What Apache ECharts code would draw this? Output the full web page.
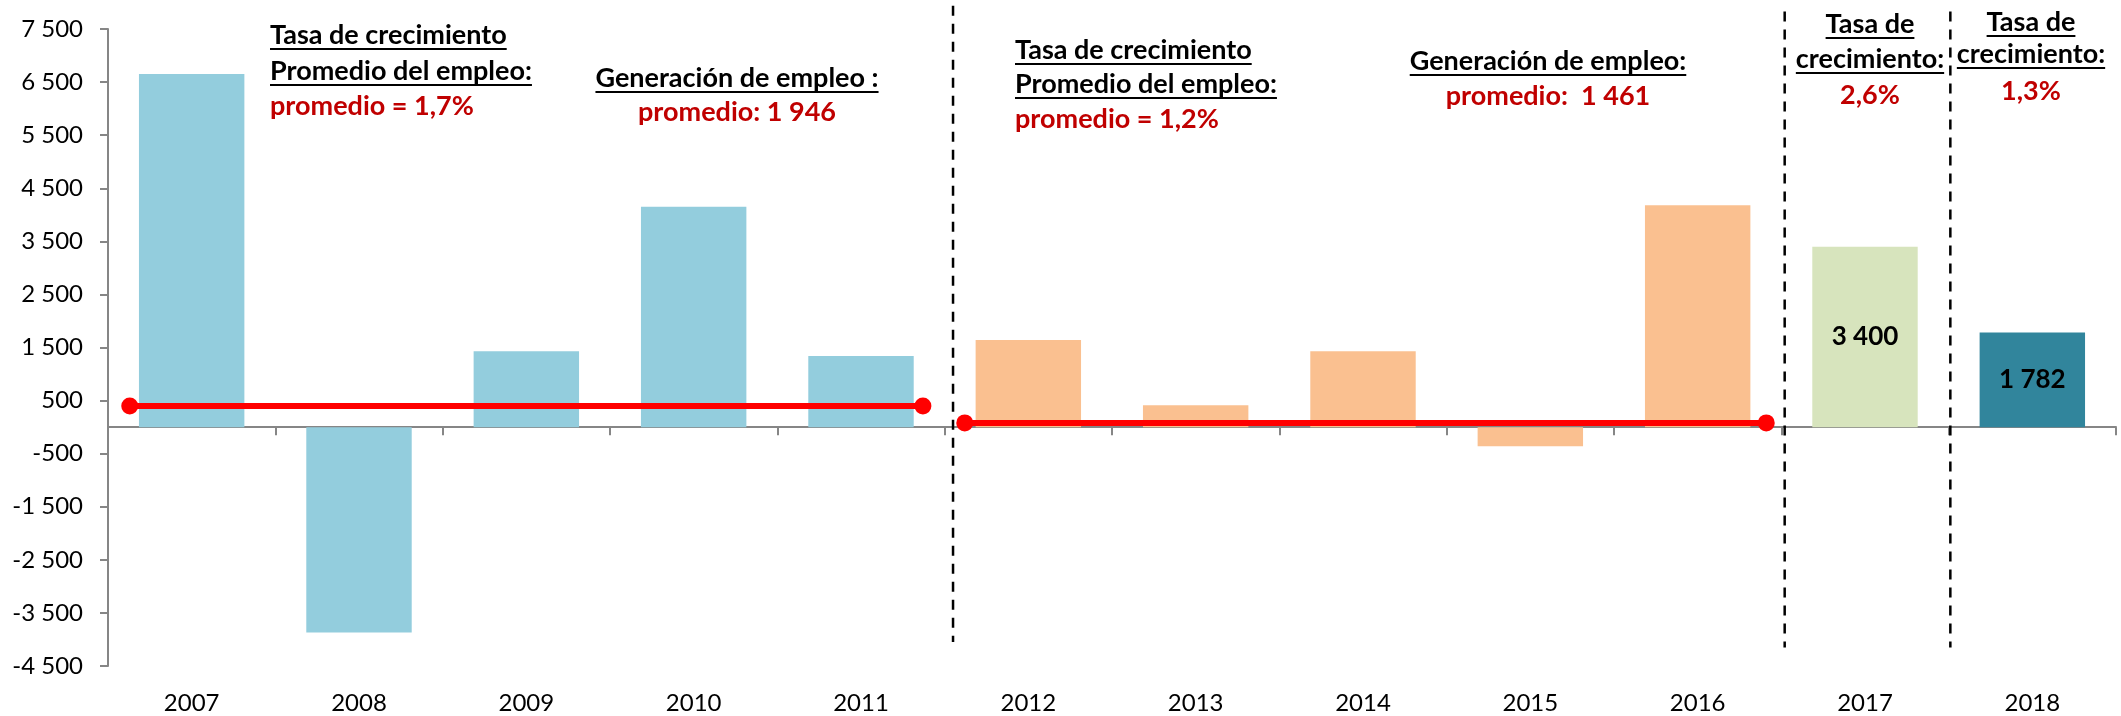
<!DOCTYPE html>
<html>
<head>
<meta charset="utf-8">
<script src="https://cdn.jsdelivr.net/npm/echarts@6/dist/echarts.min.js"></script>
<style>
  html, body { margin: 0; padding: 0; background: #fff; }
  #main { width: 2121px; height: 716px; }
</style>
</head>
<body>
<div id="main"></div>
<script>
// datos
var anios = ['2007', '2008', '2009', '2010', '2011', '2012', '2013', '2014', '2015', '2016', '2017', '2018'];
var empleo = [6650, -3870, 1430, 4150, 1340, 1640, 410, 1430, -360, 4180, 3400, 1782];
var tramo = [0, 0, 0, 0, 0, 1, 1, 1, 1, 1, 2, 3];
var conEtiqueta = [10, 11];
// ejes
var yMin = -4500, yMax = 7500, yPaso = 1000;
// lineas de promedio (x en unidades de categoria)
var promedio1 = [[-0.37, 400], [4.37, 400]];
var promedio2 = [[4.62, 80], [9.41, 80]];
// separadores: [x, y arriba, y abajo]
var separadores = [[4.55, 7940, -4050], [9.52, 7830, -4150], [10.51, 7830, -4150]];

var coloresTramo = ['#93CDDD', '#FAC090', '#D7E4BD', '#31859C'];
var FUENTE = 'Lato, "Open Sans", sans-serif';

function miles(v) {
  var s = v < 0 ? '-' : '';
  var a = Math.abs(v);
  if (a >= 1000) {
    var r = String(a % 1000);
    while (r.length < 3) r = '0' + r;
    return s + Math.floor(a / 1000) + ' ' + r;
  }
  return s + a;
}

var chart = echarts.init(document.getElementById('main'));

var barData = empleo.map(function (v, i) {
  var d = { value: v, itemStyle: { color: coloresTramo[tramo[i]] } };
  if (conEtiqueta.indexOf(i) >= 0) {
    d.label = {
      show: true, position: 'inside', color: '#000', fontFamily: FUENTE,
      fontWeight: 'bold', fontSize: 26, formatter: function (p) { return miles(p.value); }
    };
  }
  return d;
});

var series = [{
  type: 'bar',
  xAxisIndex: 0,
  yAxisIndex: 0,
  barCategoryGap: '37%',
  data: barData
}];

[promedio1, promedio2].forEach(function (d) {
  series.push({
    type: 'line',
    xAxisIndex: 2,
    yAxisIndex: 0,
    data: d,
    symbol: 'circle',
    symbolSize: 17,
    z: 5,
    itemStyle: { color: '#FF0000' },
    lineStyle: { color: '#FF0000', width: 6 }
  });
});

separadores.forEach(function (s) {
  series.push({
    type: 'line',
    xAxisIndex: 2,
    yAxisIndex: 0,
    data: [[s[0], s[1]], [s[0], s[2]]],
    symbol: 'none',
    clip: false,
    silent: true,
    z: 4,
    lineStyle: { color: '#000', width: 2.5, type: [10, 8] }
  });
});

// textos de anotacion
var ctx = document.createElement('canvas').getContext('2d');
function ancho(txt, size) {
  ctx.font = 'bold ' + size + 'px ' + FUENTE;
  return ctx.measureText(txt).width;
}
var notas = [
  { x: 270, align: 'left', lineas: [
    ['Tasa de crecimiento', 35, 'u'], ['Promedio del empleo:', 71, 'u'], ['promedio = 1,7%', 106, 'r']] },
  { x: 737, align: 'center', lineas: [
    ['Generación de empleo :', 78, 'u'], ['promedio: 1 946', 112, 'r']] },
  { x: 1015, align: 'left', lineas: [
    ['Tasa de crecimiento', 50, 'u'], ['Promedio del empleo:', 84, 'u'], ['promedio = 1,2%', 119, 'r']] },
  { x: 1548, align: 'center', lineas: [
    ['Generación de empleo:', 61, 'u'], ['promedio:  1 461', 96, 'r']] },
  { x: 1870, align: 'center', lineas: [
    ['Tasa de', 24, 'u'], ['crecimiento:', 59, 'u'], ['2,6%', 95, 'r']] },
  { x: 2031, align: 'center', lineas: [
    ['Tasa de', 22, 'u'], ['crecimiento:', 54, 'u'], ['1,3%', 91, 'r']] }
];
var graficos = [];
var tam = 27;
notas.forEach(function (n) {
  n.lineas.forEach(function (l) {
    graficos.push({
      type: 'text', x: n.x, y: l[1], z: 10,
      style: {
        text: l[0], fill: l[2] === 'r' ? '#C00000' : '#000',
        font: 'bold ' + tam + 'px ' + FUENTE, align: n.align, verticalAlign: 'middle'
      }
    });
    if (l[2] === 'u') {
      var w = ancho(l[0], tam);
      var x0 = n.align === 'center' ? n.x - w / 2 : n.x;
      graficos.push({
        type: 'line', z: 10,
        shape: { x1: x0, y1: l[1] + 14, x2: x0 + w, y2: l[1] + 14 },
        style: { stroke: '#000', lineWidth: 2 }
      });
    }
  });
});

var option = {
  animation: false,
  backgroundColor: '#fff',
  grid: { left: 108, right: 5, top: 29, bottom: 50 },
  xAxis: [{
    type: 'category',
    data: anios,
    position: 'bottom',
    axisLine: { onZero: true, lineStyle: { color: '#868686', width: 2 } },
    axisTick: { show: true, length: 8, lineStyle: { color: '#868686', width: 2 } },
    axisLabel: { show: false }
  }, {
    type: 'category',
    data: anios,
    position: 'bottom',
    axisLine: { show: false, onZero: false },
    axisTick: { show: false },
    axisLabel: { show: true, margin: 25, color: '#000', fontFamily: FUENTE, fontSize: 24 }
  }, {
    type: 'value',
    min: -0.5,
    max: 11.5,
    position: 'top',
    show: false
  }],
  yAxis: [{
    type: 'value',
    min: yMin,
    max: yMax,
    interval: yPaso,
    axisLine: { show: true, onZero: false, lineStyle: { color: '#868686', width: 2 } },
    axisTick: { show: true, length: 8, lineStyle: { color: '#868686', width: 2 } },
    splitLine: { show: false },
    axisLabel: { margin: 25, color: '#000', fontFamily: FUENTE, fontSize: 24, formatter: miles }
  }],
  graphic: graficos,
  series: series
};

chart.setOption(option);
</script>
</body>
</html>
